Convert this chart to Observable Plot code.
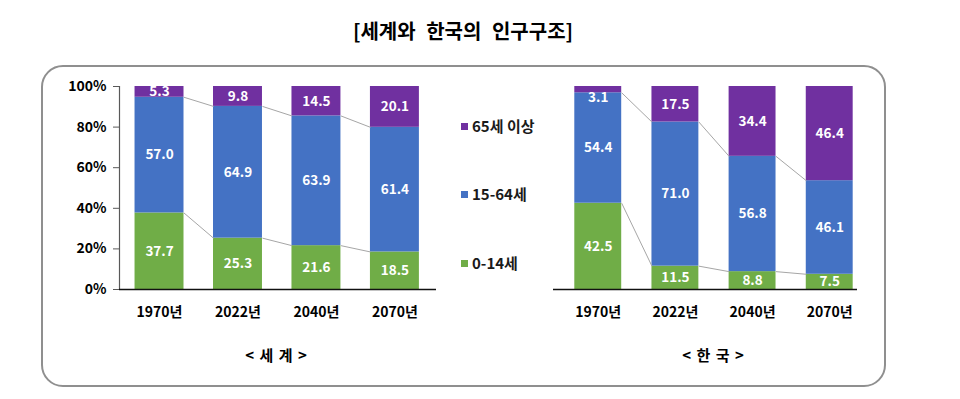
<!DOCTYPE html>
<html>
<head>
<meta charset="utf-8">
<script src="https://cdn.jsdelivr.net/npm/d3@7"></script>
<script src="https://cdn.jsdelivr.net/npm/@observablehq/plot@0.6"></script>
<style>
  html, body { margin: 0; padding: 0; background: #fff; }
  #root { position: relative; width: 960px; height: 399px; overflow: hidden;
          font-family: "Noto Sans CJK KR", "Noto Sans", sans-serif; }
  .abs { position: absolute; }
  #title { left: 0; width: 926px; top: 17px; text-align: center; font-size: 20px; font-weight: bold;
           color: #000; word-spacing: 6px; line-height: 28px; }
  #frame { left: 41px; top: 65px; width: 845px; height: 322px; box-sizing: border-box;
           border: 2px solid #8f8f8f; border-radius: 22px; }
  .leg { font-size: 15px; font-weight: bold; color: #1a1a1a; line-height: 20px; white-space: nowrap; }
  .sq { display: inline-block; width: 7px; height: 7px; margin-right: 4px; vertical-align: 2px; }
  .grp { font-size: 15px; font-weight: bold; color: #000; line-height: 20px; text-align: center; width: 120px; word-spacing: 2px; }
</style>
</head>
<body>
<div id="root">
  <div id="title" class="abs"></div>
  <div id="frame" class="abs"></div>
</div>
<script>
// ---- data ----
const years = ["1970년", "2022년", "2040년", "2070년"];
const groups = ["0-14세", "15-64세", "65세 이상"];
const colors = ["#70AD47", "#4472C4", "#7030A0"];
const yTicks = [0, 20, 40, 60, 80, 100];

const worldYoung   = [37.7, 25.3, 21.6, 18.5];
const worldWorking = [57.0, 64.9, 63.9, 61.4];
const worldOld     = [5.3, 9.8, 14.5, 20.1];

const koreaYoung   = [42.5, 11.5, 8.8, 7.5];
const koreaWorking = [54.4, 71.0, 56.8, 46.1];
const koreaOld     = [3.1, 17.5, 34.4, 46.4];

const titleText = "[세계와 한국의 인구구조]";
const worldLabel = "< 세 계 >";
const koreaLabel = "< 한 국 >";

// ---- build ----
function buildRows(series) {
  const rows = [];
  years.forEach((yr, i) => {
    let base = 0;
    series.forEach((s, g) => {
      const v = s[i];
      rows.push({i, group: groups[g], value: v, y1: base, y2: base + v});
      base += v;
    });
  });
  return rows;
}
function buildLinks(series, hw) {
  const links = [];
  for (let i = 0; i < years.length - 1; i++) {
    let c0 = 0, c1 = 0;
    for (let g = 0; g < series.length - 1; g++) {
      c0 += series[g][i]; c1 += series[g][i + 1];
      links.push({x1: i + hw, x2: i + 1 - hw, y1: c0, y2: c1});
    }
  }
  return links;
}

function makeChart(series, cfg) {
  const rows = buildRows(series);
  const links = buildLinks(series, cfg.hw);
  const marks = [];
  if (cfg.showY) {
    marks.push(Plot.axisY({ticks: yTicks, tickFormat: d => d + "%", tickSize: 6, tickPadding: 7,
      fontSize: 14, fontWeight: "bold", label: null, stroke: "#595959"}));
    marks.push(Plot.ruleX([cfg.domain[0]], {y1: 0, y2: 100, stroke: "#595959", strokeWidth: 1.2}));
  }
  marks.push(Plot.axisX({ticks: [0, 1, 2, 3], tickFormat: i => years[i], tickSize: 0, tickPadding: 18,
    fontSize: 14, fontWeight: "bold", label: null}));
  marks.push(Plot.rect(rows, {x1: d => d.i - cfg.hw, x2: d => d.i + cfg.hw, y1: "y1", y2: "y2", fill: "group"}));
  marks.push(Plot.link(links, {x1: "x1", x2: "x2", y1: "y1", y2: "y2", stroke: "#a6a6a6", strokeWidth: 1}));
  marks.push(Plot.ruleY([0], {stroke: "#111", strokeWidth: 1.5}));
  marks.push(Plot.text(rows, {
    x: "i",
    y: d => d.value < 4 ? d.y2 - 5.4 : (d.y1 + d.y2) / 2,
    text: d => d.value.toFixed(1),
    fill: "white", fontSize: 13.5, fontWeight: "bold"
  }));
  return Plot.plot({
    width: cfg.width, height: 300,
    marginLeft: cfg.ml, marginRight: cfg.mr, marginTop: 16, marginBottom: 81,
    x: {type: "linear", domain: cfg.domain, axis: null},
    y: {domain: [0, 100], axis: null},
    color: {domain: groups, range: colors},
    style: {fontFamily: '"Noto Sans CJK KR", "Noto Sans", sans-serif', background: "transparent",
            color: "#000", overflow: "visible"},
    marks
  });
}

const root = document.getElementById("root");
document.getElementById("title").textContent = titleText;

const left = makeChart([worldYoung, worldWorking, worldOld],
  {width: 410, ml: 79, mr: 14, domain: [-0.51, 3.53], hw: 0.312, showY: true});
left.classList.add("abs");
left.style.left = "40px"; left.style.top = "70px";
root.appendChild(left);

const right = makeChart([koreaYoung, koreaWorking, koreaOld],
  {width: 400, ml: 53, mr: 43, domain: [-0.58, 3.36], hw: 0.304, showY: false});
right.classList.add("abs");
right.style.left = "500px"; right.style.top = "70px";
root.appendChild(right);

// legend (top to bottom: 65+, 15-64, 0-14)
const legendY = [126, 194, 263];
[2, 1, 0].forEach((g, k) => {
  const d = document.createElement("div");
  d.className = "abs leg";
  d.style.left = "461px";
  d.style.top = (legendY[k] - 10) + "px";
  const sq = document.createElement("span");
  sq.className = "sq"; sq.style.background = colors[g];
  d.appendChild(sq);
  d.appendChild(document.createTextNode(groups[g]));
  root.appendChild(d);
});

// group labels
[[worldLabel, 276], [koreaLabel, 713]].forEach(([t, cx]) => {
  const d = document.createElement("div");
  d.className = "abs grp";
  d.style.left = (cx - 60) + "px";
  d.style.top = "345px";
  d.textContent = t;
  root.appendChild(d);
});
</script>
</body>
</html>
